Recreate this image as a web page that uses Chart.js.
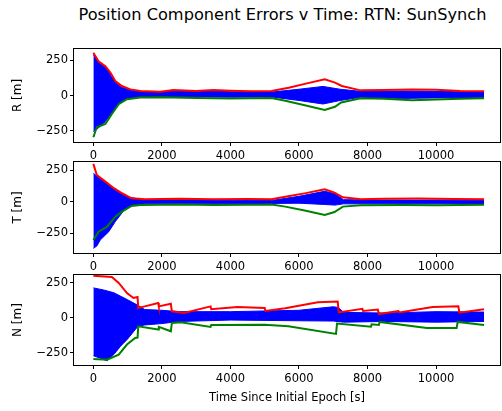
<!DOCTYPE html>
<html>
<head>
<meta charset="utf-8">
<script src="https://cdn.jsdelivr.net/npm/chart.js@4.4.1/dist/chart.umd.min.js"></script>
<style>
  body { margin: 0; background: #fff; width: 502px; height: 411px; overflow: hidden; position: relative; }
  canvas { position: absolute; left: 0; }
  #title { position: absolute; left: 0; width: 565px; top: 5px; text-align: center;
           font-family: 'DejaVu Sans', sans-serif; font-size: 16.2px; color: #000; white-space: nowrap; }
</style>
</head>
<body>
<div id="title">Position Component Errors v Time: RTN: SunSynch</div>
<canvas id="chartR" width="502" height="170" style="top:0px"></canvas>
<canvas id="chartT" width="502" height="140" style="top:140px"></canvas>
<canvas id="chartN" width="502" height="156" style="top:255px"></canvas>
<script>
const xTicks = [0, 2000, 4000, 6000, 8000, 10000];
const yTicks = [-250, 0, 250];

// R component
const rRedT = [0, 150, 350, 500, 640, 830, 1080, 1370, 1950, 2340, 3000, 3500, 4000, 4600, 5200, 5700, 6200, 6750, 7050, 7250, 7800, 8500, 9300, 10000, 10700, 11400];
const rRedV = [305, 244, 209, 162, 103, 68, 44, 33, 28, 40, 32, 40, 35, 30, 33, 55, 85, 115, 92, 68, 37, 40, 44, 42, 32, 30];
const rGreenT = [0, 100, 350, 540, 740, 980, 1370, 2000, 3000, 4000, 5200, 5600, 6200, 6750, 7050, 7230, 7800, 8500, 9300, 10000, 10700, 11400];
const rGreenV = [-296, -225, -202, -131, -61, -26, -14, -12, -18, -20, -18, -37, -70, -103, -80, -49, -19, -22, -33, -28, -22, -19];
const rBlueHiT = [0, 150, 350, 500, 640, 830, 1080, 1500, 2500, 4000, 5200, 6000, 6700, 7200, 7800, 9000, 10500, 11400];
const rBlueHiV = [290, 235, 200, 150, 95, 60, 40, 25, 30, 28, 25, 45, 65, 45, 30, 32, 28, 25];
const rBlueLoT = [0, 100, 350, 540, 740, 980, 1500, 2500, 4000, 5200, 6000, 6700, 7200, 7800, 9000, 10500, 11400];
const rBlueLoV = [-255, -240, -185, -120, -55, -20, -10, -8, -12, -10, -35, -60, -35, -12, -20, -15, -12];

// T component
const tRedT = [0, 100, 350, 600, 835, 1115, 1500, 2500, 3500, 4500, 5200, 5600, 6200, 6750, 7035, 7280, 7800, 8500, 9500, 10500, 11400];
const tRedV = [302, 214, 161, 109, 69, 29, 21, 25, 22, 24, 22, 42, 70, 101, 74, 37, 21, 26, 28, 24, 22];
const tGreenT = [0, 155, 400, 640, 835, 1115, 1370, 2500, 3500, 4500, 5200, 5600, 6200, 6750, 7035, 7280, 7800, 9000, 10000, 11400];
const tGreenV = [-302, -236, -196, -117, -77, -32, -24, -20, -24, -22, -20, -37, -70, -103, -80, -37, -27, -24, -26, -22];
const tBlueHiT = [0, 150, 400, 650, 1000, 1500, 3000, 5200, 6000, 6750, 7050, 7300, 8500, 10000, 11400];
const tBlueHiV = [228, 195, 145, 90, 40, 15, 15, 12, 45, 85, 65, 18, 15, 15, 12];
const tBlueLoT = [0, 100, 200, 450, 640, 900, 1115, 1500, 3000, 5200, 6000, 6750, 7050, 7300, 8500, 10000, 11400];
const tBlueLoV = [-368, -350, -302, -236, -156, -64, -30, -15, -15, -12, -10, -20, -25, -15, -15, -15, -12];

// N component
const nRedT = [0, 540, 740, 980, 1170, 1290, 1310, 1500, 1890, 1910, 2260, 2290, 2650, 3420, 3440, 4200, 5000, 5020, 5600, 6550, 7130, 7160, 7850, 7870, 8300, 8330, 8900, 8930, 9900, 10650, 10680, 11400];
const nRedV = [302, 293, 250, 178, 143, 150, 71, 83, 107, 83, 102, 48, 35, 83, 62, 79, 71, 50, 70, 112, 117, 40, 65, 50, 60, 28, 50, 40, 79, 83, 38, 62];
const nGreenT = [0, 400, 740, 980, 1220, 1290, 1310, 1890, 1910, 2260, 2290, 2550, 3420, 3440, 5000, 5690, 7080, 7110, 8100, 8120, 8330, 8350, 9730, 10600, 10630, 11400];
const nGreenV = [-293, -298, -262, -190, -143, -140, -60, -83, -64, -95, -36, -31, -64, -50, -48, -60, -114, -40, -62, -45, -50, -28, -71, -71, -28, -50];
const nBlueHiT = [0, 300, 600, 1000, 1300, 1500, 2000, 2500, 4000, 6000, 7000, 7150, 7300, 8500, 10000, 11400];
const nBlueHiV = [215, 200, 180, 130, 90, 60, 55, 45, 45, 55, 80, 75, 40, 35, 45, 42];
const nBlueLoT = [0, 400, 600, 800, 1000, 1300, 1500, 2000, 2500, 4000, 6000, 7000, 7300, 8500, 10000, 11400];
const nBlueLoV = [-270, -305, -260, -200, -150, -60, -50, -40, -25, -15, -20, -22, -30, -25, -30, -25];

const FONT = 'DejaVu Sans';
const pts = (ts, vs) => ts.map((t, i) => ({ x: t, y: vs[i] }));
const fmt = v => (v < 0 ? '\u2212' + (-v) : String(v));

const frame = {
  id: 'frame',
  afterDraw(c) {
    const a = c.chartArea, ctx = c.ctx;
    ctx.save();
    ctx.strokeStyle = '#000';
    ctx.lineWidth = 1;
    ctx.strokeRect(Math.round(a.left) - 0.5, Math.round(a.top) - 0.5,
                   Math.round(a.right - a.left) + 1, Math.round(a.bottom - a.top) + 1);
    ctx.restore();
  }
};

function makeChart(id, yLabel, red, green, hi, lo, yMin, yMax, padTop, padBottom, xH, xTitle) {
  const line = (data, color, w) => ({ data, borderColor: color, backgroundColor: color,
    borderWidth: w, pointRadius: 0, tension: 0, fill: false });
  const blueHi = line(hi, '#0000ff', 1);
  blueHi.fill = '+1';
  new Chart(document.getElementById(id), {
    type: 'line',
    data: {
      datasets: [
        line(red, '#ff0000', 2),
        line(green, '#008000', 2),
        blueHi,
        line(lo, '#0000ff', 1)
      ]
    },
    options: {
      responsive: false,
      animation: false,
      events: [],
      layout: { padding: { top: padTop, right: 2, left: 0, bottom: padBottom } },
      plugins: { legend: { display: false }, tooltip: { enabled: false } },
      scales: {
        x: {
          type: 'linear', min: -565, max: 11865,
          afterBuildTicks: s => { s.ticks = xTicks.map(v => ({ value: v })); },
          afterFit: s => { s.height = xH; },
          grid: { drawOnChartArea: false, drawTicks: true, tickLength: 4, color: '#000' },
          border: { display: false },
          ticks: { color: '#000', padding: 3, maxRotation: 0, callback: fmt,
                   font: { family: FONT, size: 11.5 } },
          title: { display: !!xTitle, text: xTitle || '', color: '#000', padding: { top: 2, bottom: 0 },
                   font: { family: FONT, size: 11.5 } }
        },
        y: {
          min: yMin, max: yMax,
          afterBuildTicks: s => { s.ticks = yTicks.map(v => ({ value: v })); },
          afterFit: s => { s.width = 74; },
          grid: { drawOnChartArea: false, drawTicks: true, tickLength: 4, color: '#000' },
          border: { display: false },
          ticks: { color: '#000', padding: 2, callback: fmt, font: { family: FONT, size: 11.5 } },
          title: { display: true, text: yLabel, color: '#000', padding: { top: 11, bottom: 0 },
                   font: { family: FONT, size: 12 } }
        }
      }
    },
    plugins: [frame]
  });
}

makeChart('chartR', 'R [m]', pts(rRedT, rRedV), pts(rGreenT, rGreenV),
  pts(rBlueHiT, rBlueHiV), pts(rBlueLoT, rBlueLoV), -330, 331, 49, 0, 28, null);
makeChart('chartT', 'T [m]', pts(tRedT, tRedV), pts(tGreenT, tGreenV),
  pts(tBlueHiT, tBlueHiV), pts(tBlueLoT, tBlueLoV), -405, 317, 22, 0, 27, null);
makeChart('chartN', 'N [m]', pts(nRedT, nRedV), pts(nGreenT, nGreenV),
  pts(nBlueHiT, nBlueHiV), pts(nBlueLoT, nBlueLoV), -336, 307, 20, 6, 40, 'Time Since Initial Epoch [s]');
</script>
</body>
</html>
